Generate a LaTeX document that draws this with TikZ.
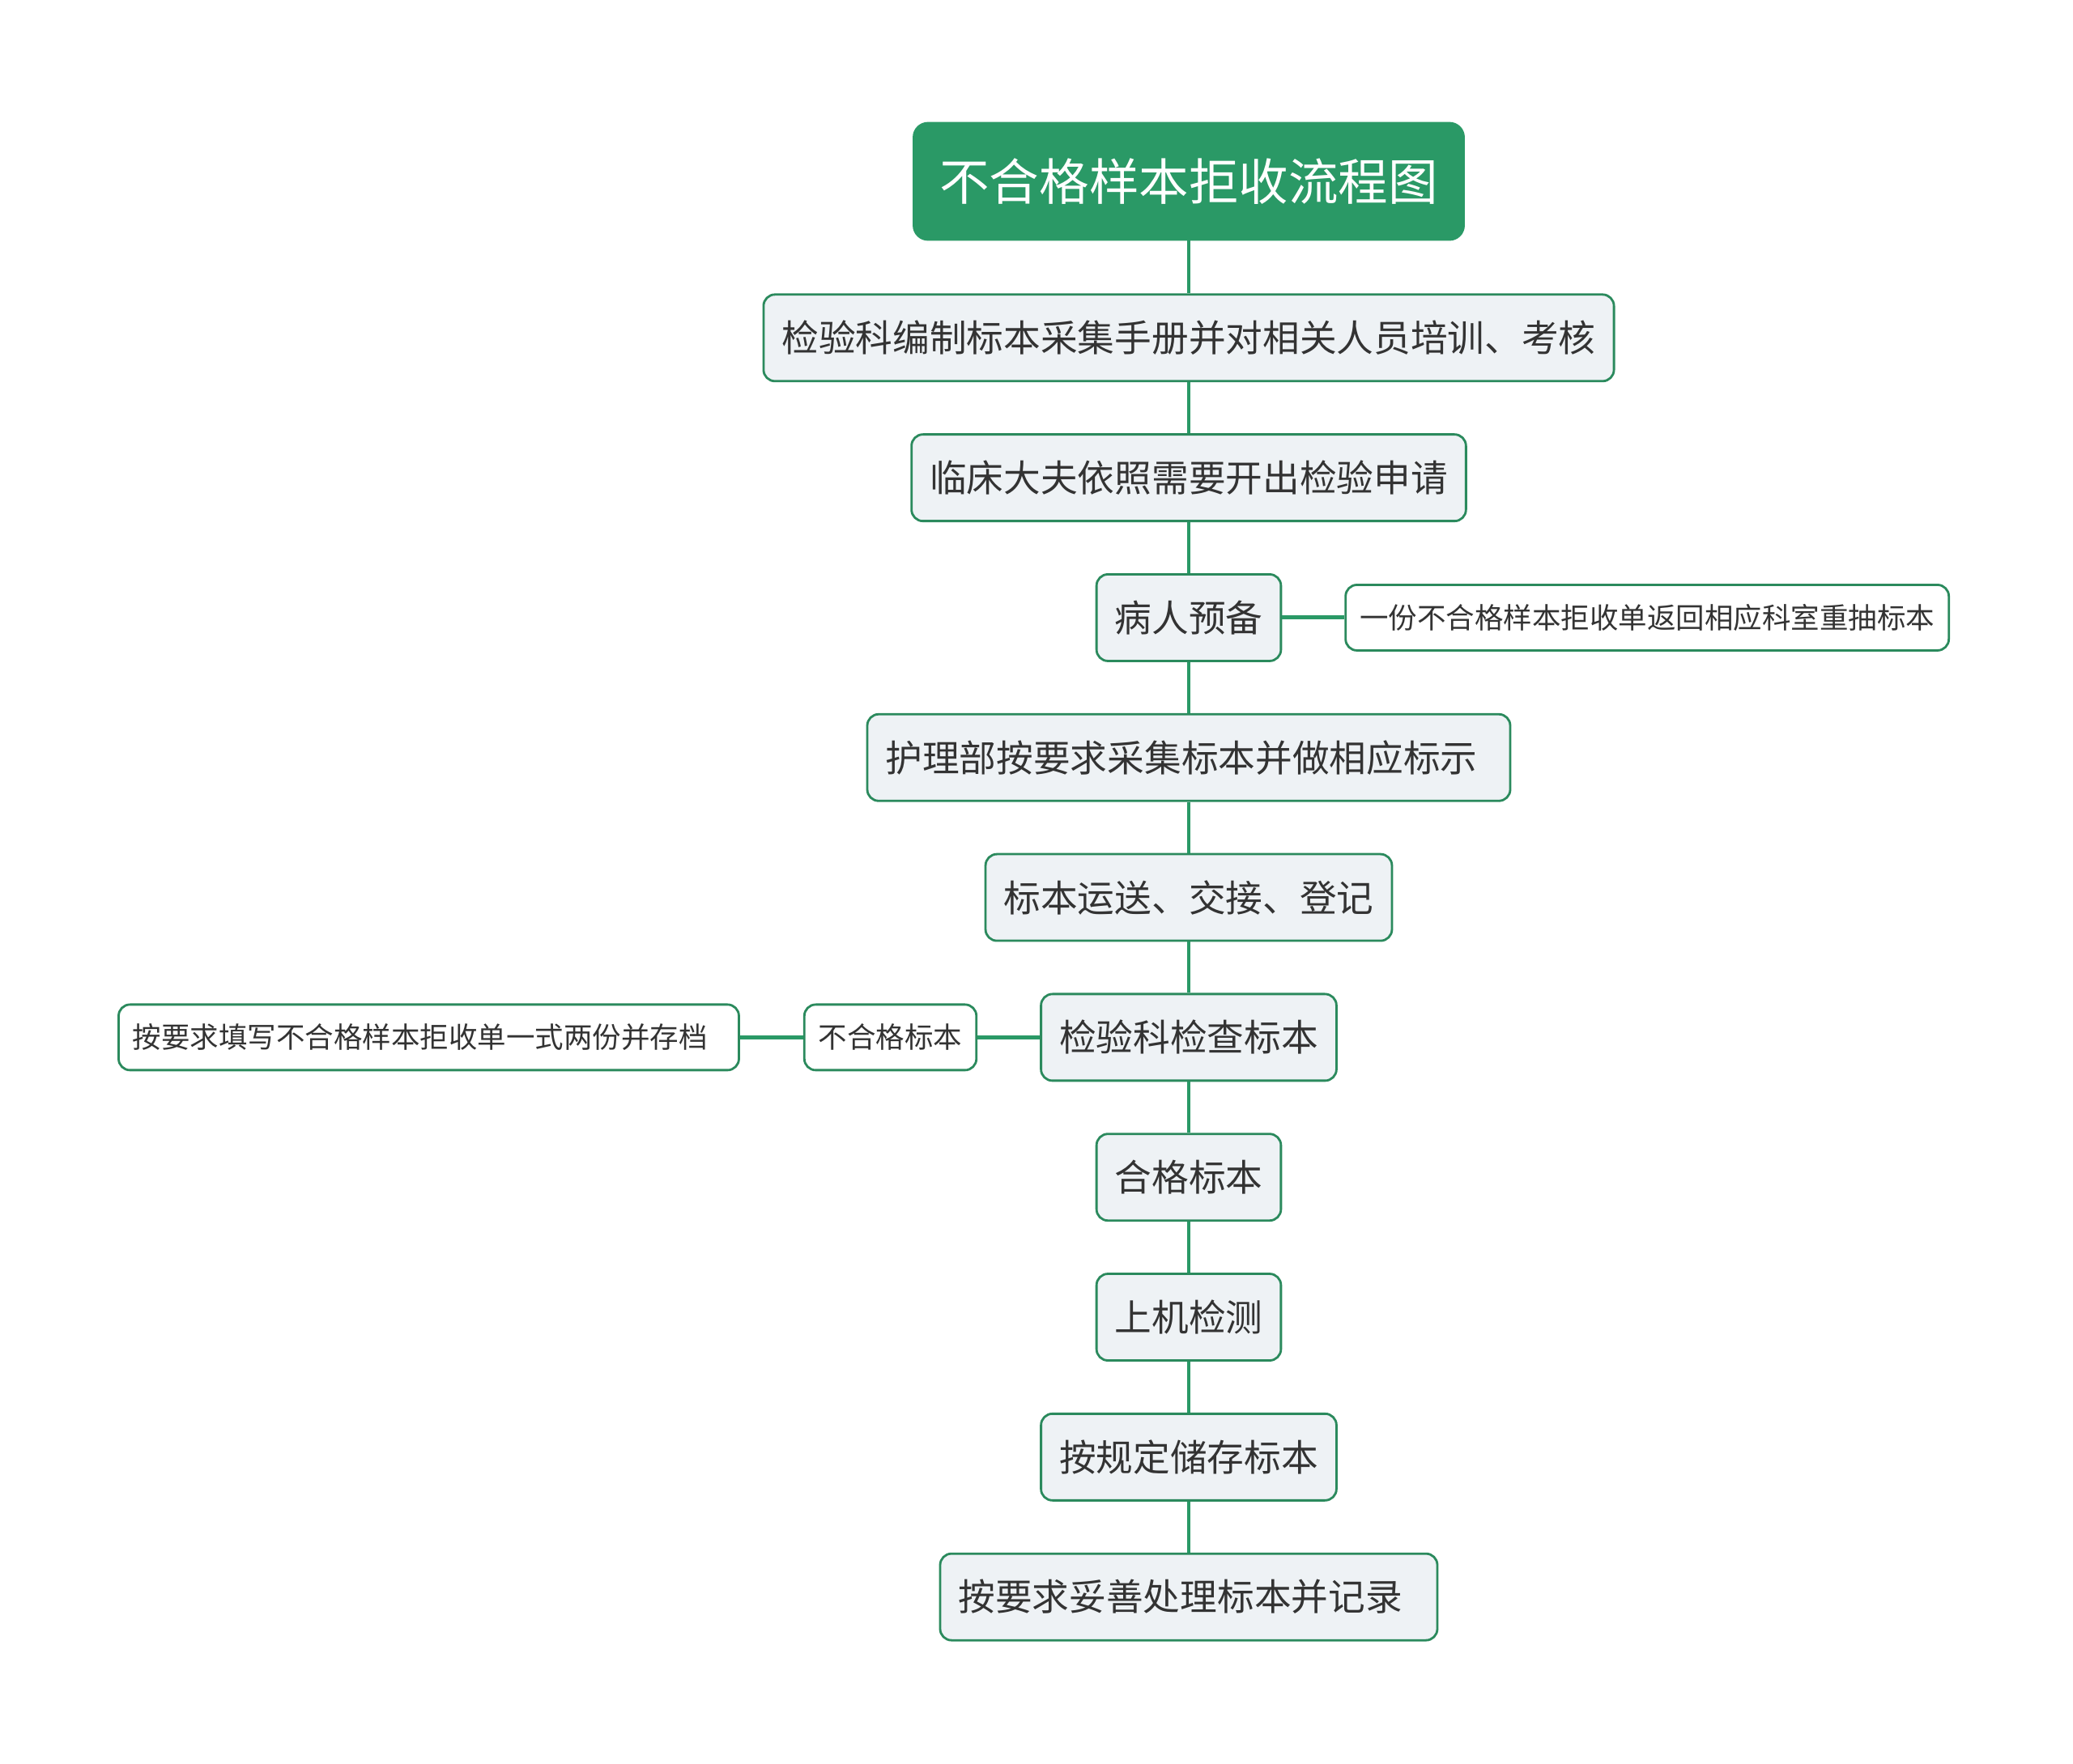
\documentclass[tikz,border=0pt]{standalone}
\usepackage{fontspec}
\setmainfont{Noto Sans CJK SC}
\usetikzlibrary{positioning}
\definecolor{green}{HTML}{2A9966}
\definecolor{edge}{HTML}{2B8A5D}
\definecolor{ink}{HTML}{333333}
\definecolor{lightgray}{HTML}{EEF2F5}
\tikzset{
  box/.style={draw=edge, line width=0.8pt, rounded corners=4pt, align=center, text=ink},
  title/.style={box, fill=green, draw=green, text=white, rounded corners=5pt, inner xsep=0.32cm, minimum height=1.44cm, font=\fontsize{17.5pt}{20pt}\selectfont},
  stepbox/.style={box, fill=lightgray, inner xsep=0.225cm, minimum height=1.07cm, font=\fontsize{13pt}{15pt}\selectfont},
  note/.style={box, fill=white, inner xsep=0.175cm, minimum height=0.81cm, font=\fontsize{10.1pt}{12pt}\selectfont},
  link/.style={draw=green, line width=1.4pt}
}
\begin{document}
\begin{tikzpicture}[node distance=6.3mm and 7.8mm]
\useasboundingbox (0,0) rectangle (25.6,-21.78);
\node[title] (title) at (14.68,-2.24) {不合格样本拒收流程图};
\node[stepbox, below=6.5mm of title] (manual) {检验科编制标本采集手册并对相关人员培训、考核};
\node[stepbox, below=of manual] (request) {临床大夫依照需要开出检验申请};
\node[stepbox, below=of request] (patient) {病人预备};
\node[stepbox, below=of patient, text width=7.49cm, align=left] (collect) {护理部按要求采集标本并做相应标示};
\node[stepbox, below=of collect] (transport) {标本运送、交接、登记};
\node[stepbox, below=of transport] (check) {检验科检查标本};
\node[stepbox, below=of check] (qualified) {合格标本};
\node[stepbox, below=of qualified] (testing) {上机检测};
\node[stepbox, below=of testing] (storage) {按规定储存标本};
\node[stepbox, below=of storage, text width=5.69cm, align=left] (disposal) {按要求妥善处理标本并记录};
\node[note, right=7.7mm of patient] (notice) {一份不合格样本拒收单返回相应科室重抽标本};
\node[note, left=7.7mm of check] (reject) {不合格标本};
\node[note, left=of reject, text width=7.31cm, align=left] (archive) {按要求填写不合格样本拒收单一式两份并存档};
\draw[link] (title) -- (manual);
\draw[link] (manual) -- (request);
\draw[link] (request) -- (patient);
\draw[link] (patient) -- (collect);
\draw[link] (collect) -- (transport);
\draw[link] (transport) -- (check);
\draw[link] (check) -- (qualified);
\draw[link] (qualified) -- (testing);
\draw[link] (testing) -- (storage);
\draw[link] (storage) -- (disposal);
\draw[link] (patient) -- (notice);
\draw[link] (check) -- (reject);
\draw[link] (reject) -- (archive);
\end{tikzpicture}
\end{document}
